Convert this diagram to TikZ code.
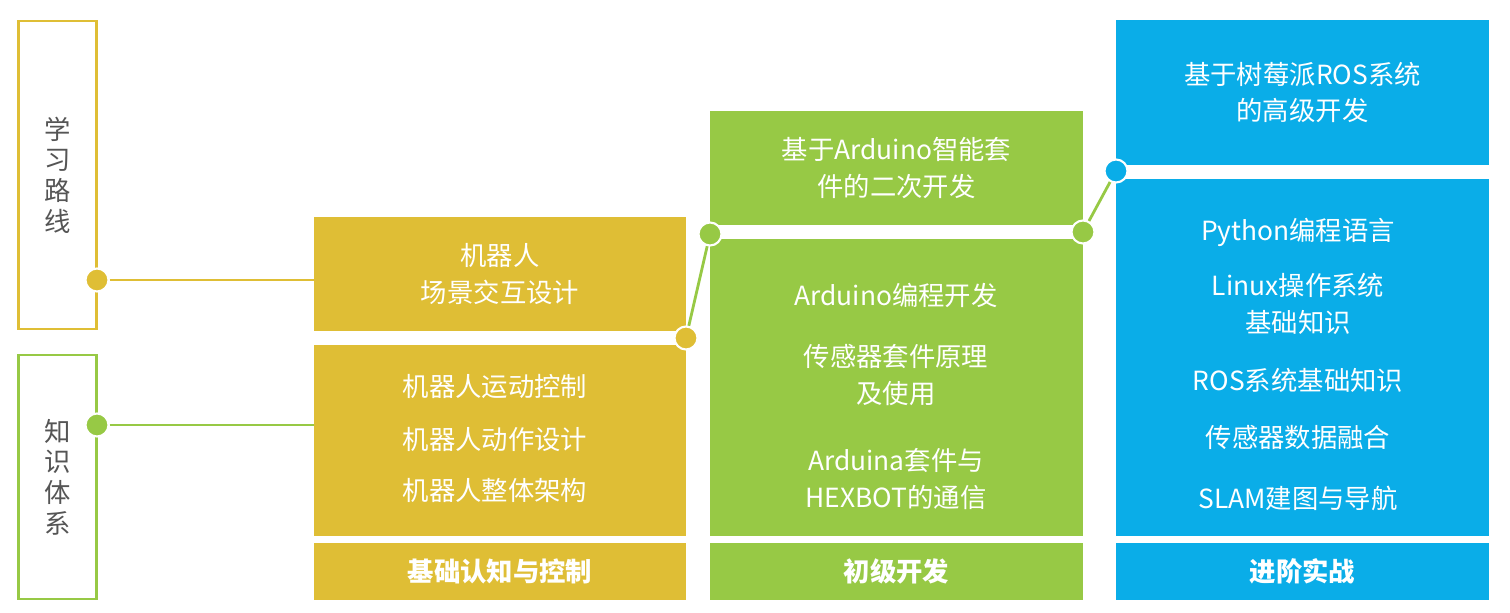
\documentclass[tikz,border=0pt]{standalone}
\usepackage{fontspec}
\setmainfont{Noto Sans CJK SC}
\usetikzlibrary{positioning}
\definecolor{ylw}{HTML}{DFBE35}
\definecolor{grn}{HTML}{97C945}
\definecolor{blu}{HTML}{0AADE8}
\definecolor{txtgray}{HTML}{555555}
\begin{document}
\begin{tikzpicture}[x=0.02cm, y=-0.02cm,
    box/.style={rectangle, inner sep=0pt, text=white, align=center, font=\fontsize{15}{21}\selectfont},
    item/.style={text=white, align=center, inner sep=0pt, font=\fontsize{15}{21}\selectfont},
    side/.style={rectangle, draw, line width=1.6pt, fill=white, inner sep=0pt, minimum width=1.56cm, text=txtgray, align=center, font=\fontsize{15}{17.5}\selectfont},
    dot/.style={circle, fill=#1, draw=white, line width=1.2pt, minimum size=0.46cm, inner sep=0pt},
    link/.style={line width=1.6pt}]
    \useasboundingbox (0,0) rectangle (1510,612);

    % left labels
    \node[side, draw=ylw, minimum height=6.16cm] (route) at (57.5,175) {学\\习\\路\\线};
    \node[side, draw=grn, minimum height=4.88cm] (know) at (57.5,477) {知\\识\\体\\系};

    % yellow column
    \node[box, fill=ylw, minimum width=7.44cm, minimum height=2.28cm] (ytop) at (500,274) {机器人\\场景交互设计};
    \node[box, fill=ylw, minimum width=7.44cm, minimum height=3.82cm] (ymid) at (500,440.5) {};
    \node[box, fill=ylw, minimum width=7.44cm, minimum height=1.14cm, font=\bfseries\fontsize{15}{18}\selectfont] (ybot) at (500,571.5) {基础认知与控制};
    \node[item] (y1) at (495,387) {机器人运动控制};
    \node[item] (y2) at (495,440) {机器人动作设计};
    \node[item] (y3) at (495,490) {机器人整体架构};

    % green column
    \node[box, fill=grn, minimum width=7.46cm, minimum height=2.28cm] (gtop) at (896.5,168) {基于Arduino智能套\\件的二次开发};
    \node[box, fill=grn, minimum width=7.46cm, minimum height=5.94cm] (gmid) at (896.5,387.5) {};
    \node[box, fill=grn, minimum width=7.46cm, minimum height=1.14cm, font=\bfseries\fontsize{15}{18}\selectfont] (gbot) at (896.5,571.5) {初级开发};
    \node[item] (g1) at (896,295) {Arduino编程开发};
    \node[item] (g2) at (896,375) {传感器套件原理\\及使用};
    \node[item] (g3) at (896,479) {Arduina套件与\\HEXBOT的通信};

    % blue column
    \node[box, fill=blu, minimum width=7.46cm, minimum height=2.9cm] (btop) at (1302.5,92.5) {基于树莓派ROS系统\\的高级开发};
    \node[box, fill=blu, minimum width=7.46cm, minimum height=7.14cm] (bmid) at (1302.5,357.5) {};
    \node[box, fill=blu, minimum width=7.46cm, minimum height=1.14cm, font=\bfseries\fontsize{15}{18}\selectfont] (bbot) at (1302.5,571.5) {进阶实战};
    \node[item] (b1) at (1298,232) {Python编程语言};
    \node[item] (b2) at (1298,304) {Linux操作系统\\基础知识};
    \node[item] (b3) at (1298,380) {ROS系统基础知识};
    \node[item] (b4) at (1298,437) {传感器数据融合};
    \node[item] (b5) at (1298,498) {SLAM建图与导航};

    % connectors
    \coordinate (yend) at (314,280);
    \coordinate (gend) at (314,425);
    \node[dot=ylw] (rdot) at (97,280) {};
    \node[dot=grn] (kdot) at (97,425) {};
    \draw[link, ylw] (rdot) -- (yend);
    \draw[link, grn] (kdot) -- (gend);
    \draw[line width=6pt, white] (700,232) -- (1095,232);
    \node[dot=ylw] (ydot) at (686,338) {};
    \node[dot=grn] (gdot1) at (710,234) {};
    \node[dot=grn] (gdot2) at (1083,232) {};
    \node[dot=blu] (bdot) at (1116,171) {};
    \draw[link, grn] (ydot) -- (gdot1);
    \draw[link, grn] (gdot2) -- (bdot);
\end{tikzpicture}
\end{document}
